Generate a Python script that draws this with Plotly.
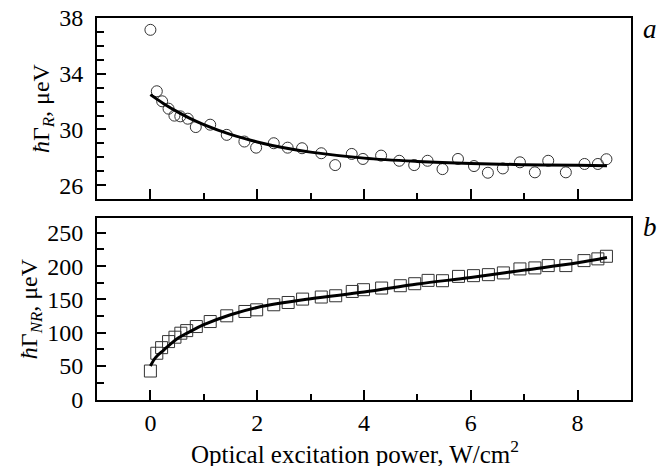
import plotly.graph_objects as go
from plotly.subplots import make_subplots

# panel a: radiative width (circles) and fitted curve
power_a = [0.0, 0.12, 0.22, 0.34, 0.45, 0.56, 0.70, 0.85, 1.12, 1.43, 1.76, 1.98, 2.31, 2.57,
           2.84, 3.20, 3.46, 3.77, 3.98, 4.32, 4.66, 4.94, 5.19, 5.47, 5.76, 6.06, 6.32, 6.60,
           6.92, 7.20, 7.45, 7.78, 8.13, 8.38, 8.54]
gamma_r = [37.15, 32.74, 32.02, 31.49, 30.99, 30.94, 30.77, 30.17, 30.34, 29.61, 29.13, 28.69,
           29.01, 28.69, 28.65, 28.29, 27.44, 28.24, 27.88, 28.12, 27.75, 27.44, 27.75, 27.15,
           27.88, 27.37, 26.89, 27.20, 27.64, 26.92, 27.75, 26.92, 27.52, 27.52, 27.86]
fit_x_a = [0.0, 0.25, 0.5, 0.75, 1.0, 1.5, 2.0, 2.5, 3.0, 4.0, 5.0, 6.0, 7.0, 8.0, 8.55]
fit_y_a = [32.50, 31.85, 31.28, 30.78, 30.35, 29.64, 29.10, 28.68, 28.37, 27.94, 27.70, 27.55,
           27.47, 27.42, 27.40]

# panel b: non-radiative width (squares) and fitted curve
power_b = [0.0, 0.12, 0.21, 0.34, 0.46, 0.57, 0.68, 0.86, 1.12, 1.43, 1.77, 1.99, 2.31, 2.58,
           2.85, 3.20, 3.47, 3.78, 3.99, 4.33, 4.68, 4.95, 5.20, 5.47, 5.77, 6.05, 6.33, 6.61,
           6.92, 7.20, 7.45, 7.78, 8.12, 8.38, 8.54]
gamma_nr = [42.5, 69.2, 77.6, 86.7, 93.3, 99.3, 103.2, 109.3, 116.8, 125.4, 131.9, 134.4, 142.0,
            145.4, 150.5, 153.6, 155.5, 162.0, 164.6, 167.1, 170.6, 173.6, 178.6, 178.1, 184.6,
            185.7, 187.2, 189.8, 195.8, 197.3, 200.8, 200.8, 208.3, 210.9, 214.8]
fit_x_b = [0.0, 0.1, 0.25, 0.5, 0.75, 1.0, 1.5, 2.0, 3.0, 4.0, 5.0, 6.0, 7.0, 8.0, 8.55]
fit_y_b = [50, 63, 74, 91, 102, 112, 127, 138, 151, 161, 173, 183, 194, 205, 213]

serif = "Liberation Serif"

fig = make_subplots(rows=2, cols=1, shared_xaxes=False, vertical_spacing=0.05)

fig.add_trace(go.Scatter(x=power_a, y=gamma_r, mode="markers",
                         marker=dict(symbol="circle-open", size=11, color="#333",
                                     line=dict(width=1))), row=1, col=1)
fig.add_trace(go.Scatter(x=fit_x_a, y=fit_y_a, mode="lines",
                         line=dict(color="black", width=3, shape="spline")), row=1, col=1)
fig.add_trace(go.Scatter(x=power_b, y=gamma_nr, mode="markers",
                         marker=dict(symbol="square-open", size=12, color="#333",
                                     line=dict(width=1))), row=2, col=1)
fig.add_trace(go.Scatter(x=fit_x_b, y=fit_y_b, mode="lines",
                         line=dict(color="black", width=3, shape="spline")), row=2, col=1)

axis_common = dict(showline=True, linecolor="black", linewidth=2, mirror=True,
                   ticks="inside", tickcolor="black", tickwidth=1.5, showgrid=False,
                   zeroline=False, automargin=False,
                   tickfont=dict(family=serif, size=24, color="black"))

fig.update_xaxes(range=[-1, 9], dtick=2, tick0=0, ticklen=10,
                 minor=dict(dtick=1, ticks="inside", ticklen=6, tickcolor="black", tickwidth=1.5),
                 **axis_common)
fig.update_xaxes(showticklabels=False, row=1, col=1)
fig.update_xaxes(ticklabelstandoff=0, row=2, col=1)

fig.update_yaxes(range=[25, 38], dtick=4, tick0=26, ticklen=9,
                 minor=dict(dtick=1, ticks="inside", ticklen=7, tickcolor="black", tickwidth=1.5),
                 title=dict(text="<i>ħ</i>Γ<sub><i>R</i></sub>, μeV",
                            font=dict(family=serif, size=24, color="black"), standoff=3),
                 ticklabelstandoff=7, row=1, col=1, **axis_common)
fig.update_yaxes(range=[-1, 272], dtick=50, tick0=0, ticklen=9,
                 minor=dict(dtick=25, ticks="inside", ticklen=7, tickcolor="black", tickwidth=1.5),
                 title=dict(text="<i>ħ</i>Γ<sub><i>NR</i></sub>, μeV",
                            font=dict(family=serif, size=24, color="black"), standoff=3),
                 ticklabelstandoff=7, row=2, col=1, **axis_common)

fig.update_layout(
    width=671, height=466,
    margin=dict(l=97, r=40, t=18, b=66),
    font=dict(family=serif, size=24, color="black"),
    plot_bgcolor="white", paper_bgcolor="white",
    showlegend=False,
    annotations=[
        dict(text="Optical excitation power, W/cm<sup>2</sup>", x=0.5, y=0, xref="paper",
             yref="paper", xanchor="center", yanchor="top", xshift=-9, yshift=-34,
             showarrow=False, font=dict(family=serif, size=25, color="black")),
        dict(text="<i>a</i>", x=1.0, y=1.0, xref="paper", yref="paper", xanchor="left",
             yanchor="top", xshift=10, yshift=6, showarrow=False,
             font=dict(family=serif, size=27, color="black")),
        dict(text="<i>b</i>", x=1.0, y=0.476, xref="paper", yref="paper", xanchor="left",
             yanchor="top", xshift=10, yshift=8, showarrow=False,
             font=dict(family=serif, size=27, color="black")),
    ],
)
fig.update_xaxes(domain=[0, 1])
fig.layout.yaxis.domain = [0.526, 1.0]
fig.layout.yaxis2.domain = [0.0, 0.476]

fig.write_html("out.html", config={"displayModeBar": False},
               post_script="document.body.style.margin='0';")
